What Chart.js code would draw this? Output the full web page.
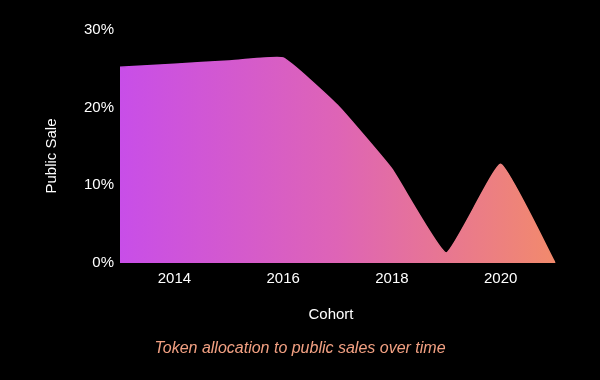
<!DOCTYPE html>
<html>
<head>
<meta charset="utf-8">
<script src="https://cdn.jsdelivr.net/npm/chart.js@4/dist/chart.umd.min.js"></script>
<style>
html,body{margin:0;padding:0;background:#000;}
canvas{display:block;}
</style>
</head>
<body>
<canvas id="c" width="600" height="380"></canvas>
<script>
const years = ['2013','2014','2015','2016','2017','2018','2019','2020','2021'];
const publicSale = [25.2, 25.6, 26.0, 26.4, 20.3, 12.1, 1.3, 12.7, 0];
const yTicks = [0, 10, 20, 30];
const shownYears = ['2014','2016','2018','2020'];
const yTitle = 'Public Sale';
const xTitle = 'Cohort';
const caption = 'Token allocation to public sales over time';

const FONT = '"Liberation Sans", Arial, Helvetica, sans-serif';

function grad(ctx, area, alpha) {
  const g = ctx.createLinearGradient(area.left, 0, area.right, 0);
  g.addColorStop(0, `rgba(200,78,232,${alpha})`);
  g.addColorStop(0.5, `rgba(222,100,182,${alpha})`);
  g.addColorStop(1, `rgba(242,138,108,${alpha})`);
  return g;
}

const textPlugin = {
  id: 'texts',
  beforeDraw(chart) {
    const c = chart.ctx;
    c.save();
    c.fillStyle = '#000';
    c.fillRect(0, 0, chart.width, chart.height);
    c.restore();
  },
  afterDraw(chart) {
    const c = chart.ctx;
    c.save();
    c.fillStyle = '#ffffff';
    c.font = '15px ' + FONT;
    c.textAlign = 'center';
    c.textBaseline = 'middle';
    c.fillText(xTitle, 331, 315);
    c.save();
    c.translate(52, 156);
    c.rotate(-Math.PI / 2);
    c.fillText(yTitle, 0, 0);
    c.restore();
    c.fillStyle = '#f2a082';
    c.font = 'italic 16px ' + FONT;
    c.fillText(caption, 300, 349);
    c.restore();
  }
};

new Chart(document.getElementById('c'), {
  type: 'line',
  data: {
    labels: years,
    datasets: [{
      data: publicSale,
      fill: 'origin',
      tension: 0.12,
      pointRadius: 0,
      borderWidth: 1.5,
      borderColor(context) {
        const a = context.chart.chartArea;
        if (!a) return 'rgba(230,120,170,1)';
        return grad(context.chart.ctx, a, 1);
      },
      backgroundColor(context) {
        const a = context.chart.chartArea;
        if (!a) return 'rgba(220,100,180,1)';
        return grad(context.chart.ctx, a, 1);
      }
    }]
  },
  options: {
    responsive: false,
    animation: false,
    layout: { padding: { top: 30, right: 45, bottom: 0, left: 0 } },
    plugins: { legend: { display: false }, tooltip: { enabled: false }, title: { display: false } },
    scales: {
      x: {
        type: 'category',
        offset: false,
        grid: { display: false, drawTicks: false },
        border: { display: false },
        ticks: {
          color: '#ffffff',
          font: { family: FONT, size: 15 },
          padding: 7,
          autoSkip: false,
          maxRotation: 0,
          callback(value) {
            const lab = this.getLabelForValue(value);
            return shownYears.includes(lab) ? lab : '';
          }
        },
        afterFit(scale) { scale.height = 117; }
      },
      y: {
        min: yTicks[0],
        max: yTicks[yTicks.length - 1],
        grid: { display: false, drawTicks: false },
        border: { display: false },
        afterBuildTicks(scale) { scale.ticks = yTicks.map(v => ({ value: v })); },
        ticks: {
          color: '#ffffff',
          font: { family: FONT, size: 15 },
          padding: 6,
          callback(v) { return v + '%'; }
        },
        afterFit(scale) { scale.width = 120; }
      }
    }
  },
  plugins: [textPlugin]
});
</script>
</body>
</html>
